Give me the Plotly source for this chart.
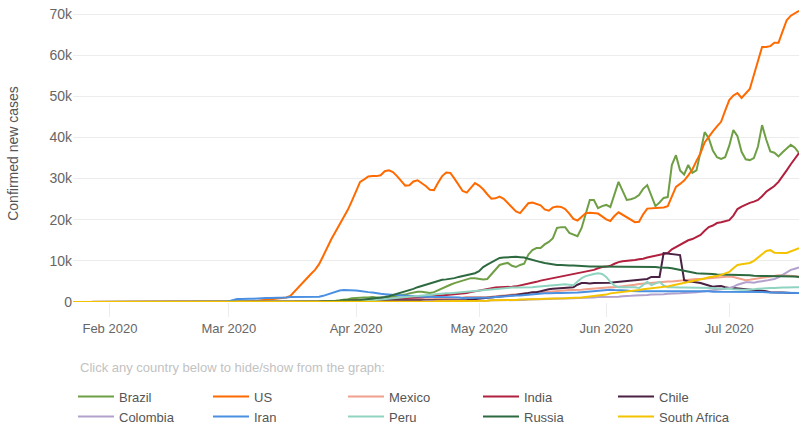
import pandas as pd
import plotly.graph_objects as go

# ---------------------------------------------------------------------------
# Data: daily confirmed new cases (thousands), 2020-01-23 .. 2020-07-18
# ---------------------------------------------------------------------------

DATES = pd.date_range("2020-01-23", "2020-07-18", freq="D")

BRAZIL = [
    0, 0, 0, 0, 0, 0, 0, 0, 0, 0,
    0, 0, 0, 0, 0, 0, 0, 0, 0, 0,
    0, 0, 0, 0, 0, 0, 0, 0, 0, 0,
    0, 0, 0, 0, 0, 0, 0, 0, 0, 0,
    0, 0, 0, 0, 0, 0, 0, 0, 0, 0,
    0, 0.1, 0.1, 0.1, 0.1, 0.2, 0.2, 0.2, 0.3, 0.3,
    0.3, 0.3, 0.3, 0.3, 0.3, 0.4, 0.5, 0.7, 0.9, 1.0,
    1.1, 1.1, 1.1, 1.2, 1.1, 1.0, 1.1, 1.3, 1.4, 1.5,
    1.6, 1.8, 2.1, 2.3, 2.5, 2.5, 2.3, 2.2, 2.4, 2.9,
    3.4, 3.8, 4.2, 4.6, 4.9, 5.2, 5.5, 5.8, 5.8, 5.6,
    5.5, 5.6, 6.7, 7.8, 9.0, 9.3, 9.5, 8.8, 8.5, 9.0,
    9.3, 11.5, 12.6, 13.1, 13.1, 14.0, 14.6, 15.5, 18.0, 18.2,
    18.2, 16.8, 16.3, 16.0, 18.0, 21.5, 24.8, 24.8, 22.8, 23.3,
    23.6, 23.1, 26.2, 29.2, 27.0, 24.8, 25.0, 25.3, 26.0, 27.5,
    28.4, 25.6, 23.3, 24.2, 25.3, 25.5, 33.3, 35.7, 32.0, 31.0,
    33.3, 31.4, 32.0, 36.5, 41.3, 39.8, 36.8, 35.2, 34.8, 35.2,
    38.0, 41.8, 40.3, 36.5, 34.7, 34.5, 35.0, 37.8, 43.0, 39.5,
    36.6, 36.3, 35.4, 36.4, 37.3, 38.2, 37.5, 36.2,
]

US = [
    0, 0, 0, 0, 0, 0, 0, 0, 0, 0,
    0, 0, 0, 0, 0, 0, 0, 0, 0, 0,
    0, 0, 0, 0, 0, 0, 0, 0, 0, 0,
    0, 0, 0, 0, 0, 0, 0, 0, 0, 0,
    0.1, 0.1, 0.1, 0.2, 0.2, 0.3, 0.4, 0.5, 0.6, 0.7,
    0.9, 1.0, 1.1, 1.5, 2.6, 3.7, 4.8, 5.8, 6.8, 7.8,
    9.2, 11.2, 13.4, 15.3, 17.1, 18.9, 20.7, 22.4, 24.6, 27.0,
    29.2, 29.8, 30.5, 30.6, 30.6, 30.8, 31.8, 32.0, 31.6, 30.6,
    29.5, 28.3, 28.4, 29.3, 29.6, 29.0, 28.2, 27.3, 27.2, 29.0,
    30.6, 31.5, 31.4, 30.0, 28.6, 27.0, 26.6, 27.8, 28.9, 28.3,
    27.4, 26.2, 25.1, 25.2, 25.6, 25.1, 24.0, 23.0, 22.0, 21.6,
    22.8, 24.0, 24.2, 23.8, 23.5, 22.5, 22.2, 23.0, 23.2, 23.1,
    22.6, 21.5, 20.2, 19.8, 20.6, 21.6, 21.7, 21.6, 21.5, 20.8,
    20.1, 19.7, 20.9, 21.8, 21.2, 20.6, 20.2, 19.4, 19.5, 21.3,
    22.7, 22.8, 22.8, 22.9, 23.0, 23.3, 25.8, 28.0, 28.7, 29.5,
    30.8, 32.2, 34.3, 36.2, 38.8, 40.3, 41.5, 42.7, 43.8, 46.5,
    49.1, 50.2, 50.8, 49.6, 50.8, 51.8, 55.2, 58.6, 62.0, 62.0,
    62.2, 63.0, 63.0, 65.8, 68.5, 69.6, 70.2, 70.8,
]

MEXICO = [
    0, 0, 0, 0, 0, 0, 0, 0, 0, 0,
    0, 0, 0, 0, 0, 0, 0, 0, 0, 0,
    0, 0, 0, 0, 0, 0, 0, 0, 0, 0,
    0, 0, 0, 0, 0, 0, 0, 0, 0, 0,
    0, 0, 0, 0, 0, 0, 0, 0, 0, 0,
    0, 0, 0, 0, 0, 0, 0, 0, 0, 0,
    0, 0, 0, 0, 0.1, 0.1, 0.1, 0.1, 0.1, 0.1,
    0.1, 0.2, 0.2, 0.2, 0.2, 0.3, 0.3, 0.3, 0.4, 0.4,
    0.4, 0.4, 0.5, 0.5, 0.5, 0.6, 0.6, 0.7, 0.7, 0.8,
    0.8, 0.9, 1.0, 1.0, 1.1, 1.1, 1.2, 1.2, 1.3, 1.3,
    1.3, 1.3, 1.3, 1.4, 1.5, 1.6, 1.7, 1.8, 1.9, 2.0,
    2.1, 2.2, 2.2, 2.3, 2.3, 2.4, 2.5, 2.6, 2.7, 2.8,
    2.9, 2.9, 2.9, 2.9, 3.0, 3.1, 3.2, 3.3, 3.3, 3.4,
    3.5, 3.6, 3.6, 3.7, 3.8, 3.9, 4.0, 4.2, 4.4, 4.5,
    4.6, 4.6, 4.7, 4.8, 4.9, 5.0, 5.0, 5.1, 5.3, 5.3,
    5.4, 5.5, 5.6, 5.6, 5.7, 5.8, 5.8, 5.9, 6.0, 6.1,
    6.2, 6.1, 5.8, 5.5, 5.3, 5.4, 5.6, 5.8, 5.9, 6.0,
    6.2, 6.4, 6.5, 6.5, 6.4, 6.3, 6.2, 6.2,
]

INDIA = [
    0, 0, 0, 0, 0, 0, 0, 0, 0, 0,
    0, 0, 0, 0, 0, 0, 0, 0, 0, 0,
    0, 0, 0, 0, 0, 0, 0, 0, 0, 0,
    0, 0, 0, 0, 0, 0, 0, 0, 0, 0,
    0, 0, 0, 0, 0, 0, 0, 0, 0, 0,
    0, 0, 0, 0, 0, 0.1, 0.1, 0.1, 0.1, 0.1,
    0.1, 0.1, 0.1, 0.2, 0.2, 0.2, 0.3, 0.3, 0.4, 0.4,
    0.4, 0.5, 0.5, 0.5, 0.6, 0.6, 0.7, 0.8, 0.8, 0.9,
    0.9, 1.0, 1.0, 1.0, 1.1, 1.1, 1.2, 1.3, 1.3, 1.4,
    1.5, 1.6, 1.7, 1.8, 1.9, 2.1, 2.2, 2.4, 2.6, 2.8,
    3.0, 3.2, 3.4, 3.5, 3.6, 3.6, 3.6, 3.7, 3.8, 4.0,
    4.2, 4.4, 4.6, 4.9, 5.2, 5.4, 5.6, 5.8, 6.0, 6.1,
    6.4, 6.6, 6.8, 7.0, 7.1, 7.3, 7.6, 7.8, 8.2, 8.5,
    8.6, 8.8, 9.3, 9.7, 9.9, 10.0, 10.0, 10.2, 10.4, 10.5,
    10.8, 11.0, 11.3, 11.5, 11.7, 11.9, 12.8, 13.4, 14.0, 14.5,
    15.0, 15.3, 15.8, 16.3, 17.3, 18.2, 18.6, 19.2, 19.4, 19.6,
    19.9, 21.0, 22.6, 23.2, 23.7, 24.1, 24.4, 24.8, 25.7, 26.8,
    27.5, 28.2, 29.2, 30.5, 32.0, 33.5, 35.0, 36.2,
]

CHILE = [
    0, 0, 0, 0, 0, 0, 0, 0, 0, 0,
    0, 0, 0, 0, 0, 0, 0, 0, 0, 0,
    0, 0, 0, 0, 0, 0, 0, 0, 0, 0,
    0, 0, 0, 0, 0, 0, 0, 0, 0, 0,
    0, 0, 0, 0, 0, 0, 0, 0, 0, 0,
    0, 0, 0, 0, 0, 0.1, 0.1, 0.1, 0.1, 0.1,
    0.1, 0.2, 0.2, 0.2, 0.2, 0.3, 0.3, 0.3, 0.3, 0.3,
    0.3, 0.3, 0.4, 0.4, 0.4, 0.4, 0.4, 0.4, 0.4, 0.4,
    0.4, 0.4, 0.4, 0.4, 0.4, 0.4, 0.4, 0.4, 0.5, 0.5,
    0.5, 0.5, 0.5, 0.5, 0.5, 0.5, 0.5, 0.6, 0.7, 0.8,
    0.9, 1.0, 1.1, 1.2, 1.3, 1.3, 1.4, 1.5, 1.7, 1.9,
    2.0, 2.2, 2.4, 2.4, 2.6, 2.9, 3.1, 3.2, 3.3, 3.4,
    3.5, 3.6, 3.6, 4.2, 4.6, 4.6, 4.5, 4.6, 4.6, 4.6,
    4.7, 4.7, 4.8, 4.9, 4.9, 5.0, 5.1, 5.3, 5.4, 5.5,
    5.6, 6.1, 6.1, 6.1, 11.9, 11.8, 11.7, 11.6, 11.4, 5.3,
    5.0, 4.9, 4.8, 4.6, 4.3, 4.0, 3.7, 3.8, 3.9, 3.6,
    3.4, 3.4, 3.3, 3.3, 3.1, 3.0, 2.9, 2.8, 2.7, 2.6,
    2.4, 2.3, 2.3, 2.3, 2.2, 2.2, 2.2, 2.2,
]

COLOMBIA = [
    0, 0, 0, 0, 0, 0, 0, 0, 0, 0,
    0, 0, 0, 0, 0, 0, 0, 0, 0, 0,
    0, 0, 0, 0, 0, 0, 0, 0, 0, 0,
    0, 0, 0, 0, 0, 0, 0, 0, 0, 0,
    0, 0, 0, 0, 0, 0, 0, 0, 0, 0,
    0, 0, 0, 0, 0, 0, 0, 0, 0, 0,
    0, 0, 0, 0, 0.1, 0.1, 0.1, 0.1, 0.1, 0.1,
    0.1, 0.1, 0.1, 0.1, 0.1, 0.1, 0.1, 0.1, 0.1, 0.1,
    0.1, 0.1, 0.1, 0.1, 0.1, 0.1, 0.2, 0.2, 0.2, 0.2,
    0.2, 0.2, 0.2, 0.2, 0.2, 0.3, 0.3, 0.3, 0.3, 0.3,
    0.3, 0.3, 0.4, 0.4, 0.4, 0.4, 0.4, 0.5, 0.5, 0.5,
    0.5, 0.6, 0.6, 0.6, 0.7, 0.7, 0.7, 0.8, 0.8, 0.8,
    0.8, 0.9, 0.9, 1.0, 1.0, 1.1, 1.1, 1.1, 1.2, 1.2,
    1.2, 1.2, 1.3, 1.3, 1.4, 1.4, 1.5, 1.6, 1.6, 1.7,
    1.7, 1.8, 1.8, 1.9, 1.9, 2.0, 2.0, 2.1, 2.1, 2.2,
    2.2, 2.3, 2.4, 2.5, 2.6, 2.7, 2.8, 2.9, 3.0, 3.2,
    3.4, 3.7, 4.2, 4.6, 4.8, 4.8, 4.7, 4.9, 5.0, 5.2,
    5.4, 5.6, 6.0, 6.6, 7.3, 7.8, 8.1, 8.4,
]

IRAN = [
    0, 0, 0, 0, 0, 0, 0, 0, 0, 0,
    0, 0, 0, 0, 0, 0, 0, 0, 0, 0,
    0, 0, 0, 0, 0, 0, 0, 0, 0, 0,
    0, 0, 0, 0, 0, 0, 0, 0, 0.2, 0.5,
    0.7, 0.7, 0.8, 0.8, 0.8, 0.9, 0.9, 1.0, 1.0, 1.0,
    1.1, 1.1, 1.1, 1.2, 1.2, 1.2, 1.2, 1.2, 1.2, 1.2,
    1.3, 1.5, 1.8, 2.2, 2.5, 2.8, 2.9, 2.9, 2.9, 2.8,
    2.7, 2.5, 2.4, 2.3, 2.1, 2.0, 1.9, 1.8, 1.7, 1.6,
    1.6, 1.5, 1.5, 1.4, 1.4, 1.3, 1.3, 1.2, 1.2, 1.2,
    1.2, 1.1, 1.1, 1.1, 1.1, 1.0, 1.0, 1.0, 1.0, 1.0,
    1.0, 1.1, 1.1, 1.2, 1.3, 1.3, 1.4, 1.5, 1.6, 1.6,
    1.7, 1.8, 1.9, 2.0, 2.0, 2.1, 2.1, 2.2, 2.2, 2.2,
    2.2, 2.2, 2.2, 2.3, 2.4, 2.5, 2.6, 2.7, 2.8, 2.9,
    3.0, 3.0, 2.9, 2.9, 2.8, 2.8, 2.7, 2.6, 2.6, 2.6,
    2.6, 2.6, 2.7, 2.7, 2.7, 2.7, 2.7, 2.6, 2.6, 2.6,
    2.6, 2.6, 2.6, 2.6, 2.6, 2.6, 2.5, 2.5, 2.5, 2.5,
    2.5, 2.5, 2.5, 2.5, 2.4, 2.4, 2.4, 2.4, 2.4, 2.4,
    2.3, 2.3, 2.3, 2.3, 2.3, 2.2, 2.2, 2.2,
]

PERU = [
    0, 0, 0, 0, 0, 0, 0, 0, 0, 0,
    0, 0, 0, 0, 0, 0, 0, 0, 0, 0,
    0, 0, 0, 0, 0, 0, 0, 0, 0, 0,
    0, 0, 0, 0, 0, 0, 0, 0, 0, 0,
    0, 0, 0, 0, 0, 0, 0, 0, 0, 0,
    0, 0, 0, 0, 0, 0, 0.1, 0.1, 0.1, 0.1,
    0.1, 0.1, 0.1, 0.1, 0.1, 0.1, 0.2, 0.2, 0.2, 0.3,
    0.3, 0.3, 0.3, 0.4, 0.5, 0.5, 0.6, 0.8, 0.9, 1.0,
    1.1, 1.2, 1.3, 1.3, 1.4, 1.5, 1.6, 1.7, 1.8, 1.9,
    2.0, 2.1, 2.1, 2.2, 2.2, 2.3, 2.4, 2.5, 2.7, 2.8,
    2.9, 3.0, 3.1, 3.2, 3.3, 3.4, 3.4, 3.5, 3.5, 3.5,
    3.6, 3.6, 3.6, 3.7, 3.8, 3.9, 4.0, 4.1, 4.2, 4.3,
    4.3, 4.2, 4.1, 5.0, 5.8, 6.3, 6.6, 6.8, 7.0, 6.8,
    6.1, 4.9, 4.0, 3.6, 3.6, 3.6, 3.7, 3.6, 3.4, 4.2,
    4.9, 4.1, 4.6, 4.9, 4.0, 3.6, 3.6, 3.5, 3.5, 3.5,
    3.5, 3.5, 3.4, 3.4, 3.4, 3.4, 3.4, 3.3, 3.3, 3.3,
    3.2, 3.1, 3.0, 3.0, 3.0, 3.0, 3.1, 3.2, 3.3, 3.3,
    3.4, 3.4, 3.5, 3.5, 3.5, 3.6, 3.6, 3.6,
]

RUSSIA = [
    0, 0, 0, 0, 0, 0, 0, 0, 0, 0,
    0, 0, 0, 0, 0, 0, 0, 0, 0, 0,
    0, 0, 0, 0, 0, 0, 0, 0, 0, 0,
    0, 0, 0, 0, 0, 0, 0, 0, 0, 0,
    0, 0, 0, 0, 0, 0, 0, 0, 0, 0,
    0, 0, 0, 0, 0, 0, 0, 0.1, 0.1, 0.1,
    0.1, 0.2, 0.2, 0.2, 0.3, 0.3, 0.4, 0.4, 0.5, 0.5,
    0.5, 0.6, 0.7, 0.8, 0.9, 1.0, 1.2, 1.4, 1.7, 2.0,
    2.2, 2.6, 2.9, 3.2, 3.6, 3.9, 4.3, 4.6, 4.9, 5.2,
    5.4, 5.5, 5.6, 5.8, 6.1, 6.3, 6.5, 6.7, 7.0, 7.5,
    8.5, 9.1, 9.7, 10.3, 10.7, 10.8, 10.9, 10.9, 11.0, 10.9,
    10.8, 10.5, 10.2, 10.0, 9.7, 9.5, 9.3, 9.1, 9.0, 9.0,
    8.9, 8.9, 8.9, 8.8, 8.8, 8.7, 8.6, 8.6, 8.6, 8.5,
    8.5, 8.5, 8.5, 8.5, 8.5, 8.5, 8.5, 8.5, 8.5, 8.5,
    8.5, 8.5, 8.5, 8.4, 8.4, 8.3, 8.2, 8.0, 7.8, 7.5,
    7.3, 7.1, 7.0, 6.9, 6.9, 6.8, 6.8, 6.7, 6.6, 6.6,
    6.6, 6.6, 6.6, 6.6, 6.6, 6.5, 6.4, 6.3, 6.3, 6.3,
    6.3, 6.3, 6.2, 6.2, 6.2, 6.2, 6.2, 6.1,
]

SOUTH_AFRICA = [
    0, 0, 0, 0, 0, 0, 0, 0, 0, 0,
    0, 0, 0, 0, 0, 0, 0, 0, 0, 0,
    0, 0, 0, 0, 0, 0, 0, 0, 0, 0,
    0, 0, 0, 0, 0, 0, 0, 0, 0, 0,
    0, 0, 0, 0, 0, 0, 0, 0, 0, 0,
    0, 0, 0, 0, 0, 0, 0, 0, 0, 0,
    0, 0, 0, 0, 0, 0, 0.1, 0.1, 0.1, 0.1,
    0.1, 0.1, 0.1, 0.1, 0.1, 0.1, 0.1, 0.1, 0.1, 0.1,
    0.1, 0.1, 0.1, 0.1, 0.1, 0.1, 0.1, 0.1, 0.1, 0.2,
    0.2, 0.2, 0.2, 0.2, 0.2, 0.2, 0.2, 0.2, 0.3, 0.3,
    0.3, 0.3, 0.4, 0.4, 0.4, 0.4, 0.5, 0.5, 0.5, 0.6,
    0.6, 0.6, 0.7, 0.7, 0.7, 0.8, 0.8, 0.8, 0.9, 0.9,
    0.9, 1.0, 1.0, 1.0, 1.1, 1.2, 1.3, 1.4, 1.5, 1.6,
    1.8, 2.1, 2.2, 2.3, 2.4, 2.5, 2.6, 2.8, 2.9, 3.1,
    3.2, 3.3, 3.4, 3.5, 3.6, 3.8, 4.0, 4.2, 4.4, 4.7,
    4.9, 5.1, 5.2, 5.4, 5.7, 6.0, 6.1, 6.3, 6.6, 6.9,
    7.3, 8.2, 9.0, 9.2, 9.4, 9.5, 10.0, 10.9, 11.6, 12.4,
    12.6, 12.0, 11.9, 11.9, 11.9, 12.3, 12.8, 13.1,
]

COUNTRIES = ["Brazil", "US", "Mexico", "India", "Chile",
             "Colombia", "Iran", "Peru", "Russia", "South Africa"]
SERIES = [BRAZIL, US, MEXICO, INDIA, CHILE,
          COLOMBIA, IRAN, PERU, RUSSIA, SOUTH_AFRICA]

Y_TICKS = [0, 10, 20, 30, 40, 50, 60, 70]
Y_TICK_TEXT = ["0", "10k", "20k", "30k", "40k", "50k", "60k", "70k"]

# ---------------------------------------------------------------------------
# Style
# ---------------------------------------------------------------------------

COLORS = {
    "Brazil":       "#6f9f45",
    "US":           "#ff6a00",
    "Mexico":       "#f1a08c",
    "India":        "#b1203e",
    "Chile":        "#4a2143",
    "Colombia":     "#b2a1cc",
    "Iran":         "#4a90e2",
    "Peru":         "#8fd3c1",
    "Russia":       "#2d6a40",
    "South Africa": "#f4c300",
}

FONT = "Liberation Sans, Arial, sans-serif"
TICK_GRAY = "#666666"
GRID = "#ececec"

for name, vals in zip(COUNTRIES, SERIES):
    assert len(vals) == len(DATES), (name, len(vals))

fig = go.Figure()
for name, vals in zip(COUNTRIES, SERIES):
    fig.add_trace(go.Scatter(
        x=DATES, y=vals,
        mode="lines",
        name=name,
        line=dict(color=COLORS[name], width=2),
        hovertemplate="%{x|%b %d}<br>" + name + ": %{y:.1f}k<extra></extra>",
    ))

fig.update_layout(
    width=799, height=425,
    margin=dict(l=73, r=0, t=5, b=123, autoexpand=False),
    paper_bgcolor="white",
    plot_bgcolor="white",
    font=dict(family=FONT, size=13, color=TICK_GRAY),
    xaxis=dict(
        type="date",
        range=["2020-01-23", "2020-07-18"],
        tick0="2020-02-01",
        dtick="M1",
        tickformat="%b %Y",
        showgrid=False,
        zeroline=False,
        showline=False,
        ticks="outside",
        ticklen=14,
        tickcolor=GRID,
        tickfont=dict(size=13, color=TICK_GRAY),
        automargin=False,
    ),
    yaxis=dict(
        range=[0, 72.2],
        tickvals=Y_TICKS,
        ticktext=Y_TICK_TEXT,
        gridcolor=GRID,
        zeroline=False,
        showline=False,
        tickfont=dict(size=14, color=TICK_GRAY),
        automargin=False,
        title=dict(text="Confirmed new cases",
                   font=dict(size=14, color="#555555"), standoff=27),
    ),
    showlegend=True,
    legend=dict(
        orientation="h",
        x=0, xanchor="left",
        y=-0.268, yanchor="top",
        entrywidth=84, entrywidthmode="pixels",
        itemwidth=36,
        font=dict(size=13, color="#555555"),
        bgcolor="rgba(0,0,0,0)",
    ),
    annotations=[dict(
        text="Click any country below to hide/show from the graph:",
        xref="paper", yref="paper",
        x=0.007, y=-0.219, xanchor="left", yanchor="middle",
        showarrow=False,
        font=dict(size=13, color="#c2c2c2"),
    )],
)

# the page body has a default 8px margin; drop it so the figure sits at 0,0
fig.write_html(
    "out.html",
    config={"displayModeBar": False},
    post_script="document.body.style.margin = '0';",
)
